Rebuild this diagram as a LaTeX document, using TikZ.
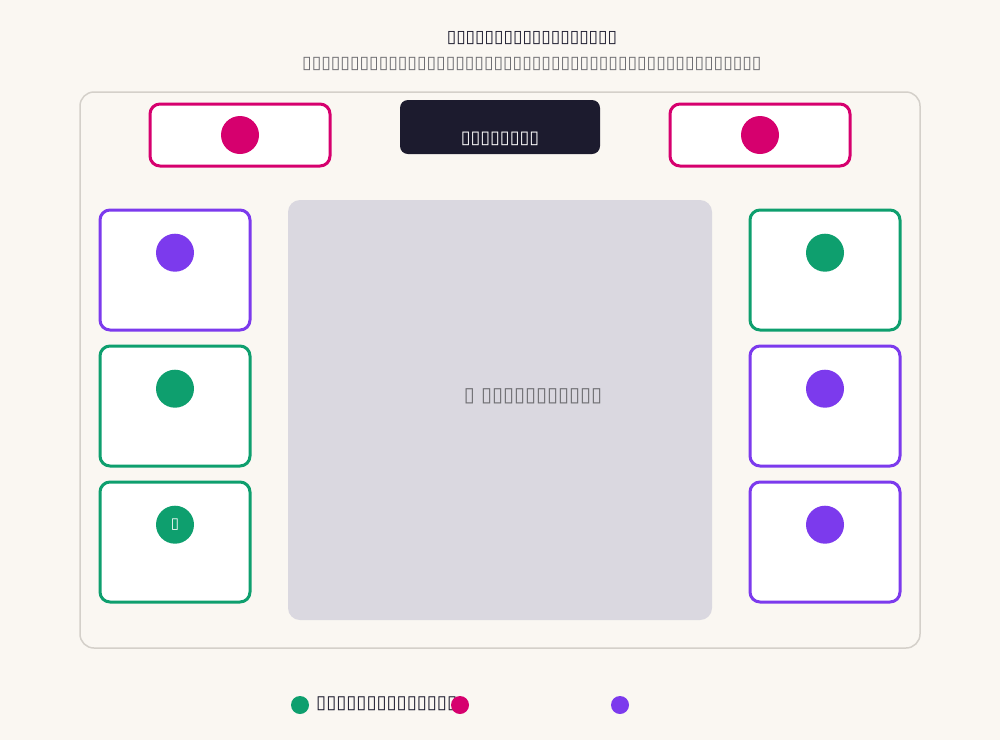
\documentclass[tikz,border=0pt]{standalone}
\usepackage{fontspec}
\setmainfont{DejaVu Sans}
\usetikzlibrary{positioning}

\definecolor{paper}{HTML}{FAF7F2}
\definecolor{frameline}{HTML}{D4D0CA}
\definecolor{panelgray}{HTML}{DAD8E0}
\definecolor{ink}{HTML}{1C1B2E}
\definecolor{mutedink}{HTML}{6E6E72}
\definecolor{seatpink}{HTML}{D6006E}
\definecolor{seatpurple}{HTML}{7C3AED}
\definecolor{seatgreen}{HTML}{0E9F6E}

\tikzset{
  card/.style={draw, line width=3pt, rounded corners=10pt, fill=white,
    minimum width=150pt, minimum height=120pt, inner sep=0pt},
  wide card/.style={card, minimum width=180pt, minimum height=62pt},
  dot/.style={circle, fill, inner sep=0pt, minimum size=38pt, text=white,
    font=\fontsize{15}{15}\selectfont},
  key dot/.style={circle, fill, inner sep=0pt, minimum size=18pt},
}

\begin{document}
\begin{tikzpicture}[x=1pt, y=-1pt]
    \fill [paper] (0,0) rectangle (1000,740);
    \useasboundingbox (0,0) rectangle (1000,740);
    % heading
    \node [text=ink, font=\fontsize{17.2}{19}\selectfont\bfseries] (title) at (532,38) {▯▯▯▯▯▯▯▯▯▯▯▯▯▯▯▯▯▯};
    \node [text=mutedink, font=\fontsize{17.4}{19}\selectfont] (subtitle) at (532,64) {▯▯▯▯▯▯▯▯▯▯▯▯▯▯▯▯▯▯▯▯▯▯▯▯▯▯▯▯▯▯▯▯▯▯▯▯▯▯▯▯▯▯▯▯▯▯▯▯};
    % room
    \node [draw=frameline, line width=1.5pt, rounded corners=14pt, minimum width=840pt, minimum height=556pt] (room) at (500,370) {};
    \node [fill=panelgray, rounded corners=12pt, minimum width=424pt, minimum height=420pt] (table) at (500,410) {};
    \node [text=mutedink, font=\fontsize{20}{22}\selectfont] (tablelabel) at (533,396) {▯ ▯▯▯▯▯▯▯▯▯▯▯};
    \node [fill=ink, rounded corners=8pt, minimum width=200pt, minimum height=54pt] (screen) at (500,127) {};
    \node [text=white, font=\fontsize{17.8}{19}\selectfont] (screenlabel) at (500,139) {▯▯▯▯▯▯▯▯};
    % top seats
    \node [wide card, draw=seatpink] (topleft) at (240,135) {};
    \node [dot, fill=seatpink] (topleftdot) at (topleft) {};
    \node [wide card, draw=seatpink] (topright) at (760,135) {};
    \node [dot, fill=seatpink] (toprightdot) at (topright) {};
    % left seats
    \node [card, draw=seatpurple] (leftA) at (175,270) {};
    \node [dot, fill=seatpurple, below=25pt of leftA.north] (leftAdot) {};
    \node [card, draw=seatgreen] (leftB) at (175,406) {};
    \node [dot, fill=seatgreen, below=25pt of leftB.north] (leftBdot) {};
    \node [card, draw=seatgreen] (leftC) at (175,542) {};
    \node [dot, fill=seatgreen, below=25pt of leftC.north] (leftCdot) {▯};
    % right seats
    \node [card, draw=seatgreen] (rightA) at (825,270) {};
    \node [dot, fill=seatgreen, below=25pt of rightA.north] (rightAdot) {};
    \node [card, draw=seatpurple] (rightB) at (825,406) {};
    \node [dot, fill=seatpurple, below=25pt of rightB.north] (rightBdot) {};
    \node [card, draw=seatpurple] (rightC) at (825,542) {};
    \node [dot, fill=seatpurple, below=25pt of rightC.north] (rightCdot) {};
    % legend
    \node [key dot, fill=seatgreen] (keygreen) at (300,705) {};
    \node [anchor=west, text=ink, font=\fontsize{18.3}{20}\selectfont, inner sep=0pt] (keytext) at (316,704) {▯▯▯▯▯▯▯▯▯▯▯▯▯▯};
    \node [key dot, fill=seatpink] (keypink) at (460,705) {};
    \node [key dot, fill=seatpurple] (keypurple) at (620,705) {};
\end{tikzpicture}
\end{document}
